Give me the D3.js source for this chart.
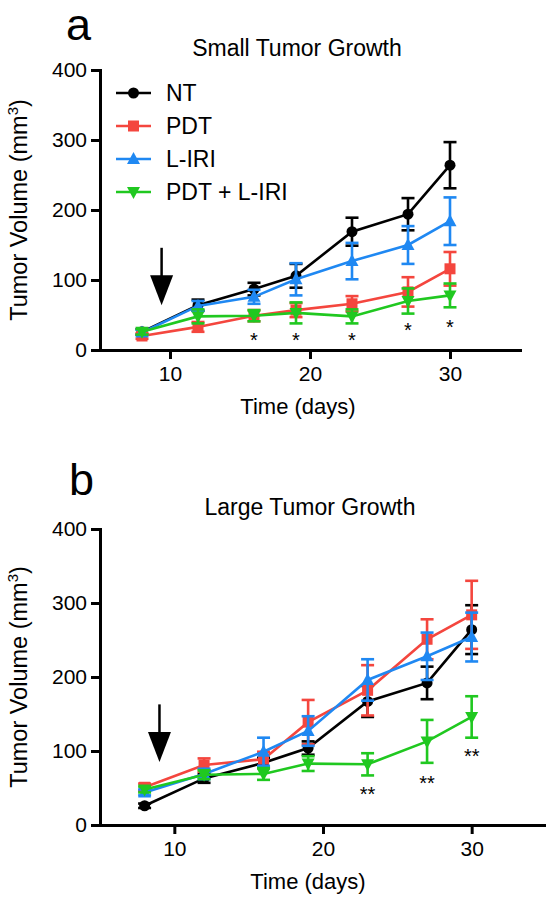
<!DOCTYPE html>
<html>
<head>
<meta charset="utf-8">
<script src="https://cdn.jsdelivr.net/npm/d3@7"></script>
<style>
  html, body { margin: 0; padding: 0; background: #fff; }
  svg { display: block; font-family: "Liberation Sans", Arial, Helvetica, sans-serif; }
</style>
</head>
<body>
<svg id="chart" width="546" height="900"></svg>
<script>
// ---------- data ----------
const days = [8, 12, 16, 19, 23, 27, 30];
const seriesNames = ["NT", "PDT", "L-IRI", "PDT + L-IRI"];
const xTicks = [10, 20, 30];
const yTicks = [0, 100, 200, 300, 400];

// Small tumor growth (panel a): mean and SEM
const smallNT      = [26, 64, 87, 106, 169, 194, 264];
const smallNTErr   = [4, 8, 9, 17, 20, 23, 33];
const smallPDT     = [20, 33, 49, 57, 66, 83, 116];
const smallPDTErr  = [4, 7, 8, 10, 11, 21, 24];
const smallLIRI    = [25, 63, 76, 101, 127, 150, 184];
const smallLIRIErr = [4, 7, 10, 23, 26, 27, 34];
const smallCombo   = [26, 48, 49, 53, 48, 70, 78];
const smallComboErr= [4, 10, 8, 15, 10, 18, 17];

// Large tumor growth (panel b)
const largeNT      = [26, 63, 84, 104, 167, 192, 264];
const largeNTErr   = [3, 6, 7, 9, 21, 22, 33];
const largePDT     = [51, 81, 89, 139, 182, 251, 284];
const largePDTErr  = [5, 9, 10, 30, 34, 27, 46];
const largeLIRI    = [44, 69, 99, 127, 196, 228, 254];
const largeLIRIErr = [4, 7, 19, 20, 28, 32, 33];
const largeCombo   = [48, 68, 69, 83, 82, 113, 146];
const largeComboErr= [4, 6, 8, 10, 15, 29, 28];

// significance annotations (day, value)
const smallStarDays = [16, 19, 23, 27, 30];
const smallStarVals = [20, 20, 20, 34, 39];
const largeStarDays = [23, 27, 30];
const largeStarVals = [47, 62, 99];

// ---------- styling ----------
const colors = ["#000000", "#f4463e", "#1f88f2", "#20c820"];
const shapes = ["circle", "square", "triUp", "triDown"];

const svg = d3.select("#chart");

function marker(g, shape, color, x, y) {
  if (shape === "circle") {
    g.append("circle").attr("cx", x).attr("cy", y).attr("r", 5.5).attr("fill", color);
  } else if (shape === "square") {
    g.append("rect").attr("x", x - 5.5).attr("y", y - 5.5).attr("width", 11).attr("height", 11).attr("fill", color);
  } else if (shape === "triUp") {
    g.append("path").attr("d", `M${x},${y - 7}L${x + 6.5},${y + 5}L${x - 6.5},${y + 5}Z`).attr("fill", color);
  } else {
    g.append("path").attr("d", `M${x},${y + 7}L${x + 6.5},${y - 5}L${x - 6.5},${y - 5}Z`).attr("fill", color);
  }
}

function panel(cfg) {
  const x = d3.scaleLinear().domain([5, 35]).range([cfg.x0, cfg.x1]);
  const y = d3.scaleLinear().domain([0, 400]).range([cfg.y0, cfg.y1]);
  const g = svg.append("g");

  // panel letter and title
  g.append("text").attr("x", cfg.letterX).attr("y", cfg.letterY)
    .attr("font-size", 45).text(cfg.letter);
  g.append("text").attr("x", cfg.titleX).attr("y", cfg.titleY)
    .attr("text-anchor", "middle").attr("font-size", 23).text(cfg.title);

  // axes
  const ax = g.append("g").attr("transform", `translate(0,${cfg.y0})`)
    .call(d3.axisBottom(x).tickValues(xTicks).tickSize(9).tickSizeOuter(0).tickPadding(7));
  const ay = g.append("g").attr("transform", `translate(${cfg.x0},0)`)
    .call(d3.axisLeft(y).tickValues(yTicks).tickSize(9).tickSizeOuter(0).tickPadding(4));
  [ax, ay].forEach(a => {
    a.selectAll("path.domain").attr("stroke", "#000").attr("stroke-width", 3).attr("stroke-linecap", "square");
    a.selectAll(".tick line").attr("stroke", "#000").attr("stroke-width", 3);
    a.selectAll(".tick text").attr("fill", "#000").attr("font-size", 21)
      .attr("font-family", '"Liberation Sans", Arial, Helvetica, sans-serif');
  });

  // axis titles
  g.append("text").attr("x", cfg.xLabelX).attr("y", cfg.xLabelY)
    .attr("text-anchor", "middle").attr("font-size", 22).text("Time (days)");
  const yl = g.append("text")
    .attr("transform", `translate(27,${(cfg.y0 + cfg.y1) / 2}) rotate(-90)`)
    .attr("text-anchor", "middle").attr("font-size", 23.5);
  yl.append("tspan").text("Tumor Volume (mm");
  yl.append("tspan").attr("font-size", 15).attr("dy", -9).text("3");
  yl.append("tspan").attr("dy", 9).text(")");

  // arrow (treatment day)
  const ah = g.append("g");
  const axp = x(cfg.arrowDay);
  const yTop = y(cfg.arrowTop), yTip = y(cfg.arrowTip), yHead = yTip - 30;
  ah.append("line").attr("x1", axp).attr("x2", axp).attr("y1", yTop).attr("y2", yHead + 2)
    .attr("stroke", "#000").attr("stroke-width", 2.5);
  ah.append("path").attr("d", `M${axp - 11.5},${yHead}L${axp + 11.5},${yHead}L${axp},${yTip}Z`).attr("fill", "#000");

  // series
  cfg.series.forEach((s, i) => {
    const sg = g.append("g");
    const pts = days.map((d, j) => [x(d), y(s.mean[j]), s.err[j]]);
    sg.append("path").attr("d", d3.line()(pts.map(p => [p[0], p[1]])))
      .attr("fill", "none").attr("stroke", colors[i]).attr("stroke-width", 2.6);
    pts.forEach((p, j) => {
      const yt = y(s.mean[j] + s.err[j]), yb = y(s.mean[j] - s.err[j]);
      sg.append("line").attr("x1", p[0]).attr("x2", p[0]).attr("y1", yt).attr("y2", yb)
        .attr("stroke", colors[i]).attr("stroke-width", 2.6);
      [yt, yb].forEach(yy => sg.append("line").attr("x1", p[0] - 6.5).attr("x2", p[0] + 6.5)
        .attr("y1", yy).attr("y2", yy).attr("stroke", colors[i]).attr("stroke-width", 2.6));
      marker(sg, shapes[i], colors[i], p[0], p[1]);
    });
  });

  // significance stars
  cfg.starDays.forEach((d, j) => {
    g.append("text").attr("x", x(d)).attr("y", y(cfg.starVals[j]) + 11)
      .attr("text-anchor", "middle").attr("font-size", 20).text(cfg.star);
  });

  // legend
  if (cfg.legend) {
    seriesNames.forEach((n, i) => {
      const ly = 93 + i * 33;
      const lg = g.append("g");
      lg.append("line").attr("x1", 116).attr("x2", 151).attr("y1", ly).attr("y2", ly)
        .attr("stroke", colors[i]).attr("stroke-width", 2.6);
      marker(lg, shapes[i], colors[i], 133.5, ly);
      lg.append("text").attr("x", 166).attr("y", ly).attr("dy", "0.36em")
        .attr("font-size", 23).text(n);
    });
  }
}

panel({
  letter: "a", letterX: 66, letterY: 40,
  title: "Small Tumor Growth", titleX: 297, titleY: 56,
  x0: 100, x1: 520, y0: 350, y1: 70, xLabelX: 298, xLabelY: 414,
  arrowDay: 9.4, arrowTop: 146, arrowTip: 64,
  series: [
    { mean: smallNT, err: smallNTErr },
    { mean: smallPDT, err: smallPDTErr },
    { mean: smallLIRI, err: smallLIRIErr },
    { mean: smallCombo, err: smallComboErr }
  ],
  starDays: smallStarDays, starVals: smallStarVals, star: "*",
  legend: true
});

panel({
  letter: "b", letterX: 69, letterY: 495,
  title: "Large Tumor Growth", titleX: 310, titleY: 515,
  x0: 100, x1: 546, y0: 825, y1: 529, xLabelX: 308, xLabelY: 889,
  arrowDay: 9.0, arrowTop: 163, arrowTip: 85,
  series: [
    { mean: largeNT, err: largeNTErr },
    { mean: largePDT, err: largePDTErr },
    { mean: largeLIRI, err: largeLIRIErr },
    { mean: largeCombo, err: largeComboErr }
  ],
  starDays: largeStarDays, starVals: largeStarVals, star: "**",
  legend: false
});
</script>
</body>
</html>
